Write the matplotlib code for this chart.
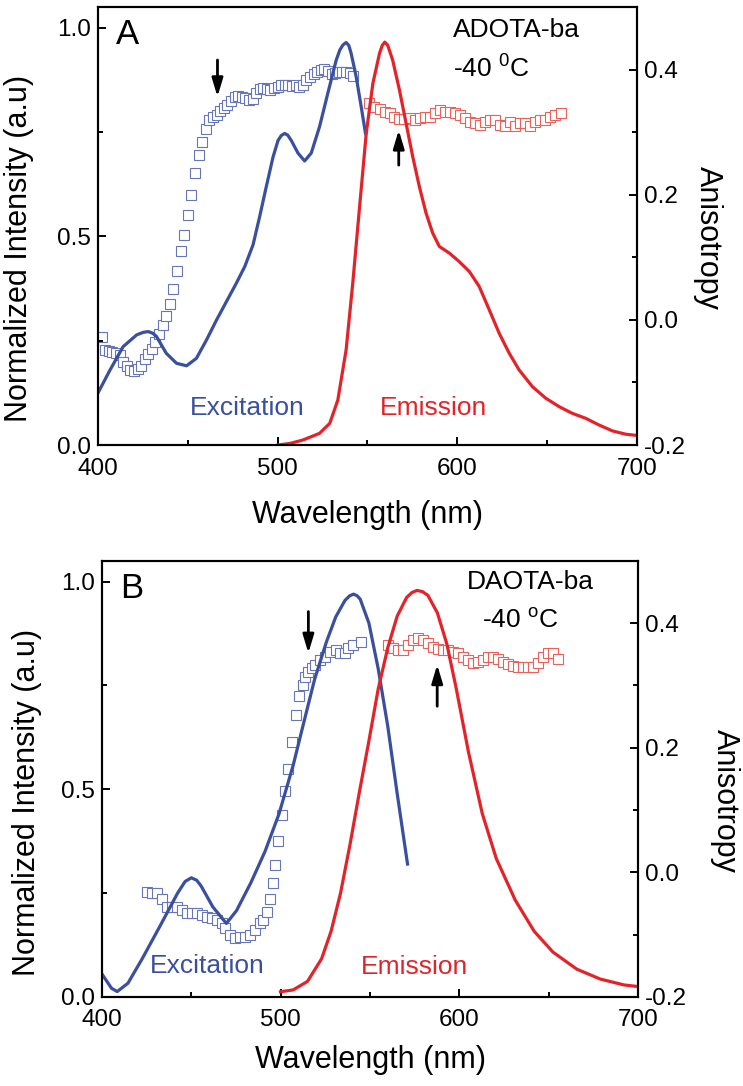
import numpy as np
import matplotlib
matplotlib.use("Agg")
import matplotlib.pyplot as plt
from matplotlib.ticker import MultipleLocator

plt.rcParams["font.family"] = ["Liberation Sans", "DejaVu Sans"]
plt.rcParams["mathtext.fontset"] = "custom"
plt.rcParams["mathtext.rm"] = "Liberation Sans"
plt.rcParams["mathtext.it"] = "Liberation Sans"

BLUE = "#3a4f9e"
RED = "#e2242a"
BLUE_SQ = "#6676b8"
RED_SQ = "#e9615b"

# ---------------- panel A : ADOTA-ba ----------------
exA_wl = [400, 406.7, 414, 421.5, 425, 428, 430.5, 432.6, 438, 443.7, 449.3, 454.8,
          460.4, 466, 471.5, 477, 481.7, 486.3, 490, 493.7, 497.4, 500.2, 502,
          503.9, 505.6, 507.6, 511.3, 515, 518.7, 523.3, 527.9, 532.6, 534.6, 536.3,
          538.1, 539.6, 540.9, 543.7, 546.5, 548.9]
exA_int = [0.125, 0.18, 0.236, 0.264, 0.27, 0.272, 0.268, 0.26, 0.22, 0.196, 0.19,
           0.208, 0.252, 0.30, 0.344, 0.388, 0.428, 0.48, 0.548, 0.62, 0.69, 0.73,
           0.742, 0.747, 0.743, 0.73, 0.70, 0.681, 0.70, 0.763, 0.843, 0.923, 0.947,
           0.959, 0.965, 0.958, 0.939, 0.883, 0.811, 0.747]

emA_wl = [500.2, 507, 514, 523.3, 529, 533.5, 538.1, 541.8, 545.6, 549.3, 553, 556.7,
          558.2, 559.6, 561.2, 564, 567.8, 571.5, 575.2, 578.9, 582.6, 586.3, 590,
          595.6, 601, 606.7, 612.2, 617.8, 623.3, 628.9, 634.4, 641.8, 649.3, 656.7,
          664, 671.5, 678.9, 686.3, 693.7, 700]
emA_int = [0.0, 0.004, 0.012, 0.028, 0.052, 0.108, 0.228, 0.388, 0.571, 0.747, 0.867,
           0.939, 0.958, 0.966, 0.959, 0.923, 0.851, 0.771, 0.691, 0.619, 0.556,
           0.508, 0.476, 0.46, 0.44, 0.416, 0.38, 0.324, 0.268, 0.22, 0.18, 0.14,
           0.112, 0.092, 0.076, 0.064, 0.048, 0.034, 0.026, 0.023]

anExA_wl = list(range(402, 543, 2))
anExA_r = [-0.027, -0.048, -0.05, -0.051, -0.053, -0.056, -0.067, -0.074, -0.08,
           -0.081, -0.079, -0.073, -0.063, -0.055, -0.047, -0.035, -0.022, -0.008,
           0.006, 0.025, 0.05, 0.078, 0.11, 0.136, 0.168, 0.2, 0.235, 0.263, 0.285,
           0.305, 0.32, 0.325, 0.328, 0.334, 0.339, 0.344, 0.35, 0.356, 0.358,
           0.356, 0.354, 0.352, 0.353, 0.362, 0.369, 0.371, 0.369, 0.368, 0.37,
           0.373, 0.375, 0.376, 0.376, 0.374, 0.376, 0.373, 0.376, 0.383, 0.389,
           0.393, 0.397, 0.399, 0.401, 0.398, 0.393, 0.394, 0.397, 0.397, 0.396,
           0.395, 0.39]

anEmA_wl = [551, 553.9, 556.7, 559.5, 562.3, 565, 567.8, 570.6, 573.4, 576.2, 579,
            581.8, 584.6, 587.4, 590.2, 593, 595.8, 598.6, 601.4, 604.2, 607, 609.8,
            612.6, 615.4, 618.2, 621, 623.8, 626.6, 629.4, 632.2, 635, 637.8, 640.6,
            643.4, 646.2, 649, 651.8, 654.6, 657.6]
anEmA_r = [0.347, 0.341, 0.337, 0.332, 0.331, 0.325, 0.321, 0.321, 0.323, 0.32,
           0.323, 0.325, 0.325, 0.331, 0.336, 0.333, 0.332, 0.331, 0.328, 0.323,
           0.317, 0.315, 0.312, 0.316, 0.32, 0.32, 0.312, 0.31, 0.316, 0.31, 0.315,
           0.314, 0.31, 0.317, 0.32, 0.32, 0.324, 0.328, 0.33]

# ---------------- panel B : DAOTA-ba ----------------
exB_wl = [400, 405.3, 408.5, 414.5, 422.5, 433, 442.3, 446.5, 450, 453, 455.5, 462,
          469.6, 475.3, 483.3, 491.2, 499, 507, 512.3, 519, 525.6, 530.8, 536,
          538.6, 540.8, 542.8, 544.5, 549.4, 554.6, 560, 565.2, 571]
exB_int = [0.055, 0.021, 0.013, 0.033, 0.092, 0.175, 0.25, 0.278, 0.287, 0.281,
           0.267, 0.217, 0.177, 0.208, 0.275, 0.35, 0.44, 0.558, 0.65, 0.765, 0.855,
           0.915, 0.955, 0.966, 0.97, 0.966, 0.958, 0.9, 0.79, 0.65, 0.49, 0.32]

emB_wl = [499.9, 507, 515, 522.9, 528.2, 533.5, 538.8, 544, 549.4, 554.6, 560,
          565.2, 570.5, 573.5, 576.3, 579.4, 582.4, 587.7, 593, 598.3, 605, 612.8,
          620.7, 631.3, 641.9, 652.4, 665.7, 678.9, 692.1, 700]
emB_int = [0.0125, 0.017, 0.0375, 0.092, 0.158, 0.25, 0.367, 0.492, 0.617, 0.742,
           0.842, 0.917, 0.962, 0.974, 0.979, 0.976, 0.967, 0.925, 0.85, 0.742,
           0.592, 0.442, 0.333, 0.233, 0.158, 0.108, 0.067, 0.043, 0.029, 0.025]

anExB_wl = [425, 427.8, 430.6, 433.4, 436.2, 439, 441.8, 444.6, 447.4, 450.2, 453,
            455.8, 458.6, 461.4, 464.2, 467, 468.8, 471.6, 474.4, 477.2, 480, 482.8,
            485.6, 488.4, 490.3, 492.2, 494, 495.5, 496.8, 498.3, 500.5, 502.4,
            504.3, 506.2, 508.6, 510.4, 512.3, 513.6, 515.5, 517.3, 519.2, 522,
            524.8, 527.6, 530.9, 533.2, 536, 537.8, 540.6, 544.7]
anExB_r = [-0.031, -0.033, -0.033, -0.042, -0.055, -0.055, -0.055, -0.06, -0.066,
           -0.066, -0.066, -0.068, -0.071, -0.074, -0.076, -0.082, -0.09, -0.1,
           -0.106, -0.103, -0.103, -0.1, -0.092, -0.082, -0.076, -0.063, -0.043,
           -0.017, 0.012, 0.05, 0.092, 0.13, 0.166, 0.21, 0.252, 0.283, 0.301,
           0.313, 0.322, 0.328, 0.333, 0.341, 0.346, 0.353, 0.357, 0.352, 0.352,
           0.36, 0.365, 0.37]

anEmB_wl = [560.2, 563, 565.8, 568.6, 571.4, 574.2, 577, 579.8, 582.6, 585.4, 588.2,
            591, 593.8, 596.6, 599.4, 602.2, 605, 607.8, 610.6, 613.4, 616.2, 619,
            621.8, 624.6, 627.4, 630.2, 633, 635.8, 638.6, 641.4, 644.2, 647, 649.8,
            652.6, 655]
anEmB_r = [0.365, 0.36, 0.357, 0.357, 0.365, 0.373, 0.376, 0.373, 0.368, 0.362,
           0.358, 0.357, 0.357, 0.354, 0.352, 0.346, 0.341, 0.336, 0.337, 0.341,
           0.345, 0.345, 0.342, 0.338, 0.335, 0.331, 0.33, 0.33, 0.329, 0.329,
           0.336, 0.345, 0.352, 0.352, 0.343]

panels = [
    dict(rect=[0.1319, 0.5902, 0.7254, 0.4033], letter="A", dye="ADOTA-ba",
         temp="-40 $^{0}$C", ex=(exA_wl, exA_int), em=(emA_wl, emA_int),
         anEx=(anExA_wl, anExA_r), anEm=(anEmA_wl, anEmA_r),
         down=(466.5, 0.923, 0.835), up=(567.4, 0.671, 0.755),
         dye_xy=(0.659, 0.975), temp_xy=(0.659, 0.840),
         exc_xy=(0.171, 0.068), emi_xy=(0.523, 0.068),
         ylab=(-0.118, 0.45), rlab=(1.132, 0.473), xlab_y=-0.125),
    dict(rect=[0.1373, 0.0820, 0.7214, 0.4015], letter="B", dye="DAOTA-ba",
         temp="-40 $^{\\mathrm{o}}$C", ex=(exB_wl, exB_int), em=(emB_wl, emB_int),
         anEx=(anExB_wl, anExB_r), anEm=(anEmB_wl, anEmB_r),
         down=(515.5, 0.928, 0.828), up=(587.6, 0.70, 0.80),
         dye_xy=(0.681, 0.979), temp_xy=(0.709, 0.846),
         exc_xy=(0.0896, 0.055), emi_xy=(0.483, 0.053),
         ylab=(-0.112, 0.445), rlab=(1.162, 0.45), xlab_y=-0.11),
]

fig = plt.figure(figsize=(7.43, 10.86), dpi=100)

for p in panels:
    ax = fig.add_axes(p["rect"])
    ax2 = ax.twinx()
    ax.set_zorder(ax2.get_zorder() + 1)
    ax.patch.set_visible(False)

    ax.plot(*p["ex"], color=BLUE, lw=2.3, zorder=2)
    ax.plot(*p["em"], color=RED, lw=2.3, zorder=2)
    ax2.plot(*p["anEx"], ls="none", marker="s", ms=7.2, mfc="white",
             mec=BLUE_SQ, mew=0.8)
    ax2.plot(*p["anEm"], ls="none", marker="s", ms=7.2, mfc="white",
             mec=RED_SQ, mew=0.8)

    ax.set_xlim(400, 700)
    ax.set_ylim(0, 1.05)
    ax2.set_ylim(-0.2, 0.5)

    ax.xaxis.set_major_locator(MultipleLocator(100))
    ax.xaxis.set_minor_locator(MultipleLocator(50))
    ax.yaxis.set_major_locator(MultipleLocator(0.5))
    ax.yaxis.set_minor_locator(MultipleLocator(0.25))
    ax2.yaxis.set_major_locator(MultipleLocator(0.2))
    ax2.yaxis.set_minor_locator(MultipleLocator(0.1))
    ax.set_yticks([0, 0.5, 1.0])
    ax.set_yticklabels(["0.0", "0.5", "1.0"])
    ax2.set_yticks([-0.2, 0.0, 0.2, 0.4])
    ax2.set_yticklabels(["-0.2", "0.0", "0.2", "0.4"])

    for a in (ax, ax2):
        a.tick_params(which="both", direction="in", labelsize=17.5, width=1.4)
        a.tick_params(which="major", length=6)
        a.tick_params(which="minor", length=3.5)
        for s in a.spines.values():
            s.set_linewidth(1.5)
    ax.tick_params(axis="x", pad=9, top=False)
    ax.tick_params(axis="y", pad=5, right=False)
    ax2.tick_params(axis="y", pad=5)

    ax.set_xlabel("Wavelength (nm)", fontsize=22)
    ax.xaxis.set_label_coords(0.5, p["xlab_y"])
    ax.set_ylabel("Normalized Intensity (a.u)", fontsize=22)
    ax.yaxis.set_label_coords(*p["ylab"])
    ax2.set_ylabel("Anisotropy", fontsize=22, rotation=-90, va="center")
    ax2.yaxis.set_label_coords(*p["rlab"])

    ax.text(0.033, 0.975, p["letter"], transform=ax.transAxes, fontsize=25,
            va="top", ha="left")
    ax.text(*p["dye_xy"], p["dye"], transform=ax.transAxes, fontsize=19,
            va="top", ha="left")
    ax.text(*p["temp_xy"], p["temp"], transform=ax.transAxes, fontsize=19,
            va="baseline", ha="left")
    ax.text(*p["exc_xy"], "Excitation", transform=ax.transAxes, fontsize=19,
            color=BLUE, va="baseline", ha="left")
    ax.text(*p["emi_xy"], "Emission", transform=ax.transAxes, fontsize=19,
            color=RED, va="baseline", ha="left")

    arrow = dict(arrowstyle="-|>,head_width=0.33,head_length=1.1",
                 mutation_scale=10, lw=2, color="k", shrinkA=0, shrinkB=0)
    x, y0, y1 = p["down"]
    ax.annotate("", xy=(x, y1), xytext=(x, y0), arrowprops=arrow)
    x, y0, y1 = p["up"]
    ax.annotate("", xy=(x, y1), xytext=(x, y0), arrowprops=arrow)

fig.savefig("out.png", dpi=100)
